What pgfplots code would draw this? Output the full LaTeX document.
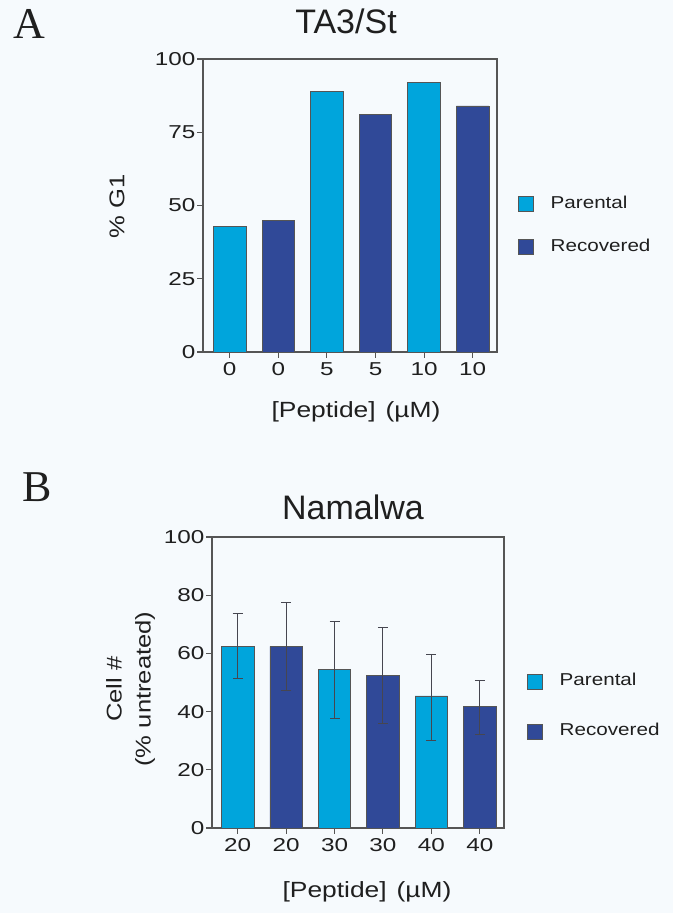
\documentclass[border=0pt]{standalone}
\usepackage{pgfplots}
\pgfplotsset{compat=1.18}
\usepackage{pgfplotstable}
\usepackage{fontspec}
\setmainfont{Liberation Sans}
\newfontfamily\serifA{Liberation Serif}
\newfontfamily\wsans[FakeStretch=1.2]{Liberation Sans}
\newfontfamily\tsans[FakeStretch=1.3]{Liberation Sans}
\definecolor{lb}{RGB}{0,165,220}
\definecolor{db}{RGB}{48,73,152}
\definecolor{bg}{RGB}{246,250,253}
\definecolor{fr}{RGB}{85,85,85}
\definecolor{errc}{RGB}{70,70,80}

\pgfplotstableread{
x y
0 43
2 89
4 92
}\parA
\pgfplotstableread{
x y
1 45
3 81
5 84
}\recA
\pgfplotstableread{
x y ep em
0 62.4 11.4 11.1
2 54.4 16.5 16.6
4 45.4 14.4 15.2
}\parB
\pgfplotstableread{
x y ep em
1 62.4 15.1 15.1
3 52.4 16.5 16.5
5 41.7 9.0 9.5
}\recB

\pgfplotsset{
  panel/.style={
    scale only axis, ybar, bar width=0.67,
    axis line style={fr, line width=0.8pt},
    tick style={fr, line width=0.8pt},
    tick align=outside, major tick length=4.5pt,
    xtick pos=bottom, ytick pos=left,
    ymin=0, ymax=100, xtick={0,...,5},
    ticklabel style={font=\tsans\fontsize{14}{16}\selectfont, text=black!88},
    yticklabel style={inner xsep=1pt},
    /pgf/number format/assume math mode=true,
    legend style={draw=none, fill=none, font=\wsans\fontsize{12.9}{14}\selectfont,
      anchor=west, inner sep=0pt, outer sep=0pt, column sep=12.75pt,
      nodes={inner sep=0pt, text height=9pt, text depth=3pt, text=black!88}},
    legend cell align=left,
  },
  sq/.style={bar shift=0pt, draw=fr, line width=0.5pt,
    legend image code/.code={\draw[##1, draw=fr, line width=0.5pt] (0pt,-5.6pt) rectangle (11.25pt,5.6pt);}},
  ebars/.style={error bars/.cd, y dir=both, y explicit,
    error bar style={color=errc, line width=0.7pt},
    error mark options={color=errc, line width=0.7pt, mark size=3.75pt, rotate=90}},
}

\begin{document}
\begin{tikzpicture}
\path[use as bounding box, fill=bg] (0,0) rectangle (504.75pt,684.75pt);

% Panel A
\begin{axis}[panel, at={(152.25pt,420.75pt)}, anchor=south west,
  width=220.5pt, height=219.75pt,
  xmin=-0.55, xmax=5.5,
  ytick={0,25,50,75,100},
  xticklabels={0,0,5,5,10,10},
  legend style={at={(1.0714,0.4317)}, row sep=20.25pt}]
\addplot[sq, fill=lb] table[x=x,y=y]{\parA};
\addlegendentry{Parental}
\addplot[sq, fill=db] table[x=x,y=y]{\recA};
\addlegendentry{Recovered}
\end{axis}

% Panel B
\begin{axis}[panel, at={(159pt,63.75pt)}, anchor=south west,
  width=219pt, height=218.25pt,
  xmin=-0.53, xmax=5.5,
  ytick={0,20,40,60,80,100},
  xticklabels={20,20,30,30,40,40},
  legend style={at={(1.0788,0.4158)}, row sep=25.5pt}]
\addplot[sq, fill=lb, ebars] table[x=x,y=y,y error plus=ep,y error minus=em]{\parB};
\addlegendentry{Parental}
\addplot[sq, fill=db, ebars] table[x=x,y=y,y error plus=ep,y error minus=em]{\recB};
\addlegendentry{Recovered}
\end{axis}

% texts
\node[anchor=base west, inner sep=0pt, font=\serifA\fontsize{33}{36}\selectfont, text=black!88] at (9.75pt,655.5pt) {A};
\node[anchor=base west, inner sep=0pt, font=\serifA\fontsize{33}{36}\selectfont, text=black!88] at (16.5pt,308.25pt) {B};
\node[anchor=base, inner sep=0pt, font=\fontsize{25.5}{30}\selectfont, text=black!88] at (259.5pt,659.25pt) {TA3/St};
\node[anchor=base, inner sep=0pt, font=\fontsize{25.5}{30}\selectfont, text=black!88] at (264.75pt,294.75pt) {Namalwa};
\node[inner sep=0pt, font=\wsans\fontsize{16.5}{19}\selectfont, text=black!88] at (267pt,375.75pt) {[Peptide]\hspace{0.45em}(µM)};
\node[inner sep=0pt, font=\wsans\fontsize{16.5}{19}\selectfont, text=black!88] at (275.25pt,15.75pt) {[Peptide]\hspace{0.45em}(µM)};
\node[rotate=90, inner sep=0pt, font=\wsans\fontsize{16}{19}\selectfont, text=black!88] at (87.75pt,530.25pt) {\% G1};
\node[rotate=90, inner sep=0pt, align=center, font=\wsans\fontsize{16}{21.75}\selectfont, text=black!88] at (97.875pt,168pt) {Cell \#\\(\% untreated)};
\end{tikzpicture}
\end{document}
